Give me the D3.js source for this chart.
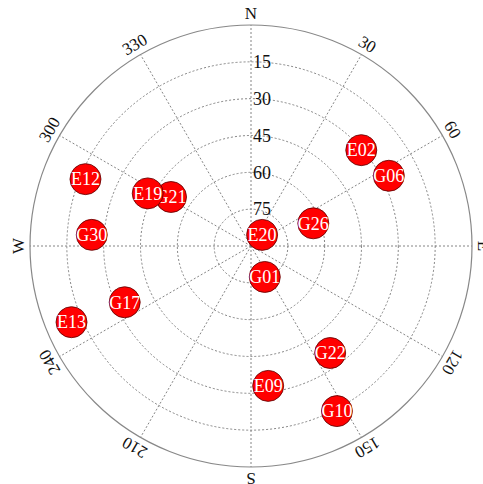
<!DOCTYPE html>
<html>
<head>
<meta charset="utf-8">
<script src="https://cdn.jsdelivr.net/npm/d3@7"></script>
<style>
  body { margin: 0; background: #fff; }
  svg text { font-family: "Liberation Serif", "DejaVu Serif", serif; }
</style>
</head>
<body>
<svg id="chart" width="483" height="484"></svg>
<script>
// satellite ids, azimuth (deg) and elevation (deg)
var sats = ['E02', 'G06', 'G26', 'E12', 'G21', 'E19', 'G30', 'G17', 'E13', 'E20', 'G01', 'G22', 'E09', 'G10'];
var azimuth = [49, 63, 70, 292, 301.5, 297, 274, 246, 247, 45, 156, 143.5, 173, 152.5];
var elevation = [30.5, 27, 63, 17.3, 51.8, 42.8, 25, 33.7, 10.6, 83.6, 76.2, 35.8, 32.6, 14.2];

var elevTicks = [15, 30, 45, 60, 75];
var azTicks = [0, 30, 60, 90, 120, 150, 180, 210, 240, 270, 300, 330];
var azLabels = ['N', '30', '60', 'E', '120', '150', 'S', '210', '240', 'W', '300', '330'];

var cx = 251, cy = 246, R = 221;

var svg = d3.select('#chart');
var g = svg.append('g').attr('transform', 'translate(' + cx + ',' + cy + ')');

// elevation -> radius, zenith at the centre
var rScale = d3.scaleLinear().domain([90, 0]).range([0, R]);

function px(az, el) {
  var a = az * Math.PI / 180, r = rScale(el);
  return [r * Math.sin(a), -r * Math.cos(a)];
}

// rings
g.selectAll('circle.ring')
  .data(elevTicks)
  .enter().append('circle')
  .attr('class', 'ring')
  .attr('r', function(d){ return rScale(d); })
  .attr('fill', 'none')
  .attr('stroke', '#777')
  .attr('stroke-width', 0.9)
  .attr('stroke-dasharray', '2,2');

// spokes
g.selectAll('line.spoke')
  .data(azTicks)
  .enter().append('line')
  .attr('class', 'spoke')
  .attr('x1', 0).attr('y1', 0)
  .attr('x2', function(d){ return px(d, 0)[0]; })
  .attr('y2', function(d){ return px(d, 0)[1]; })
  .attr('stroke', '#777')
  .attr('stroke-width', 0.9)
  .attr('stroke-dasharray', '2,2');

// horizon
g.append('circle')
  .attr('r', R)
  .attr('fill', 'none')
  .attr('stroke', '#888')
  .attr('stroke-width', 1.2);

// elevation labels
g.selectAll('text.elev')
  .data(elevTicks)
  .enter().append('text')
  .attr('class', 'elev')
  .attr('x', 2)
  .attr('y', function(d){ return -rScale(d); })
  .attr('dy', '0.35em')
  .attr('font-size', 18)
  .attr('fill', '#111')
  .text(function(d){ return d; });

// azimuth labels, rotated along the circle
g.selectAll('text.az')
  .data(azTicks)
  .enter().append('text')
  .attr('class', 'az')
  .attr('transform', function(d){
    return 'rotate(' + d + ') translate(0,' + (-(R + 12)) + ')';
  })
  .attr('text-anchor', 'middle')
  .attr('dy', '0.35em')
  .attr('font-size', 17)
  .attr('fill', '#111')
  .text(function(d, i){ return azLabels[i]; });

// satellites
var sat = g.selectAll('g.sat')
  .data(sats)
  .enter().append('g')
  .attr('class', 'sat')
  .attr('transform', function(d, i){
    var p = px(azimuth[i], elevation[i]);
    return 'translate(' + p[0] + ',' + p[1] + ')';
  });

sat.append('circle')
  .attr('r', 15.5)
  .attr('fill', '#ff0000')
  .attr('stroke', '#5a0000')
  .attr('stroke-width', 0.8);

sat.append('text')
  .attr('text-anchor', 'middle')
  .attr('dy', '0.35em')
  .attr('font-size', 18)
  .attr('fill', '#fff')
  .text(function(d){ return d; });
</script>
</body>
</html>
